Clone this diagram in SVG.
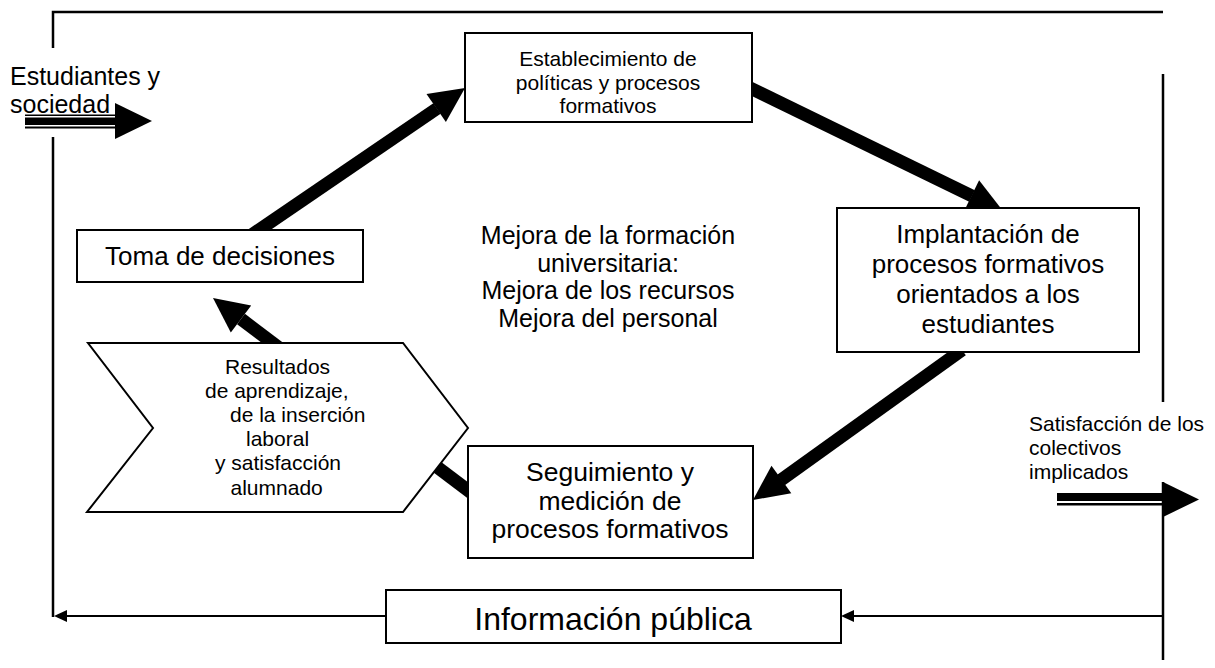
<svg xmlns="http://www.w3.org/2000/svg" width="1215" height="668" viewBox="0 0 1215 668">
<defs>
<style>
.t{font-family:"Liberation Sans",Arial,sans-serif;fill:#000}
.box{fill:#fff;stroke:#000;stroke-width:2}
.thick{stroke:#000;stroke-width:13;fill:none}
.frame{stroke:#000;stroke-width:2.5;fill:none}
.thin{stroke:#000;stroke-width:2;fill:none}
.head{fill:#000}
</style>
</defs>
<rect width="1215" height="668" fill="#fff"/>
<g id="connectors">
<polyline class="frame" points="53,48 53,12 1163,12"/>
<line class="frame" x1="53" y1="137" x2="53" y2="617"/>
<line class="frame" x1="1163" y1="74" x2="1163" y2="402"/>
<line class="frame" x1="1163" y1="482" x2="1163" y2="660"/>
<line class="thin" x1="1163" y1="616" x2="852" y2="616"/>
<polygon class="head" points="841,616 854,610 854,622"/>
<line class="thin" x1="386" y1="616" x2="64" y2="616"/>
<polygon class="head" points="54,616 67,610 67,622"/>
<rect x="25" y="114.5" width="92" height="1.5" fill="#000"/>
<rect x="25" y="117.5" width="92" height="7.5" fill="#000"/>
<rect x="25" y="126.5" width="92" height="2" fill="#000"/>
<polygon class="head" points="115,103 152,121 115,139"/>
<rect x="1057" y="493" width="108" height="8" fill="#000"/>
<rect x="1057" y="503" width="108" height="2.5" fill="#000"/>
<polygon class="head" points="1163,482 1199,499.5 1163,517"/>
<line class="thick" x1="250" y1="236" x2="437" y2="108.5"/>
<polygon class="head" points="465,88 445.9,121.9 426.5,93.9"/>
<line class="thick" x1="740" y1="83" x2="972" y2="196"/>
<polygon class="head" points="1003,211 979.1,180.3 964.1,210.9"/>
<line class="thick" x1="962" y1="350" x2="781" y2="480"/>
<polygon class="head" points="753,500 791.3,493.3 771.5,465.7"/>
<line class="thick" x1="490" y1="507" x2="241" y2="319"/>
<polygon class="head" points="213,298 251.2,305.4 230.8,332.6"/>
</g>
<g id="node-estudiantes">
<text class="t" font-size="25" x="10" y="85">Estudiantes y</text>
<text class="t" font-size="25" x="10" y="113">sociedad</text>
</g>
<g id="node-establecimiento">
<rect class="box" x="465" y="33" width="287" height="89"/>
<text class="t" font-size="21" text-anchor="middle" x="608" y="66">Establecimiento de</text>
<text class="t" font-size="21" text-anchor="middle" x="608" y="89.5">políticas y procesos</text>
<text class="t" font-size="21" text-anchor="middle" x="608" y="113">formativos</text>
</g>
<g id="node-implantacion">
<rect class="box" x="837" y="208" width="302" height="144"/>
<text class="t" font-size="26" text-anchor="middle" x="988" y="243">Implantación de</text>
<text class="t" font-size="26" text-anchor="middle" x="988" y="273">procesos formativos</text>
<text class="t" font-size="26" text-anchor="middle" x="988" y="303">orientados a los</text>
<text class="t" font-size="26" text-anchor="middle" x="988" y="333">estudiantes</text>
</g>
<g id="node-toma">
<rect class="box" x="77" y="230" width="286" height="52"/>
<text class="t" font-size="26" text-anchor="middle" x="220" y="265">Toma de decisiones</text>
</g>
<g id="node-mejora">
<text class="t" font-size="25" text-anchor="middle" x="608" y="244">Mejora de la formación</text>
<text class="t" font-size="25" text-anchor="middle" x="608" y="271.5">universitaria:</text>
<text class="t" font-size="25" text-anchor="middle" x="608" y="299">Mejora de los recursos</text>
<text class="t" font-size="25" text-anchor="middle" x="608" y="326.5">Mejora del personal</text>
</g>
<g id="node-resultados">
<polygon class="box" stroke-width="1.5" points="88,343 403,343 468,428 403,512 87,512 153,428"/>
<text class="t" font-size="21" x="225" y="373.5">Resultados</text>
<text class="t" font-size="21" x="205" y="397.7">de aprendizaje,</text>
<text class="t" font-size="21" x="230" y="421.9">de la inserción</text>
<text class="t" font-size="21" x="246" y="446.1">laboral</text>
<text class="t" font-size="21" x="215" y="470.3">y satisfacción</text>
<text class="t" font-size="21" x="230.5" y="494.5">alumnado</text>
</g>
<g id="node-seguimiento">
<rect class="box" x="468" y="446" width="285" height="112"/>
<text class="t" font-size="26.5" text-anchor="middle" x="610" y="481">Seguimiento y</text>
<text class="t" font-size="26.5" text-anchor="middle" x="610" y="509.5">medición de</text>
<text class="t" font-size="26.5" text-anchor="middle" x="610" y="538">procesos formativos</text>
</g>
<g id="node-satisfaccion">
<text class="t" font-size="21" x="1029" y="431">Satisfacción de los</text>
<text class="t" font-size="21" x="1029" y="455">colectivos</text>
<text class="t" font-size="21" x="1029" y="479">implicados</text>
</g>
<g id="node-informacion">
<rect class="box" x="386" y="590" width="455" height="53"/>
<text class="t" font-size="32" text-anchor="middle" x="613" y="630">Información pública</text>
</g>
</svg>
